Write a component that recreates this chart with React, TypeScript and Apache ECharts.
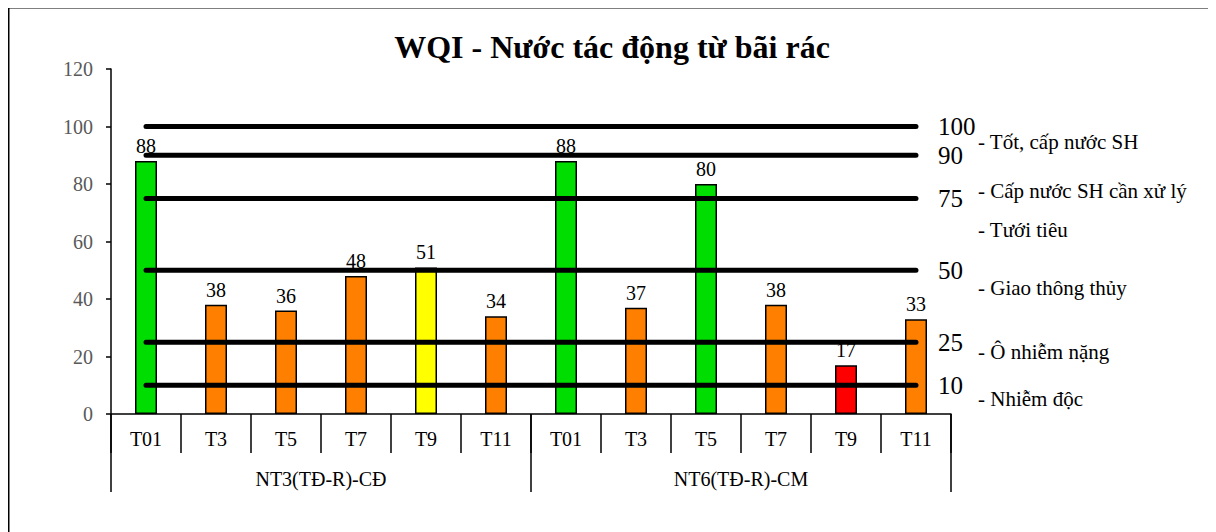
import React, { useEffect, useRef } from "react";
import * as echarts from "echarts";

const months = ["T01", "T3", "T5", "T7", "T9", "T11", "T01", "T3", "T5", "T7", "T9", "T11"];
const stations = ["NT3(TĐ-R)-CĐ", "NT6(TĐ-R)-CM"];
const wqiValues = [88, 38, 36, 48, 51, 34, 88, 37, 80, 38, 17, 33];
const thresholds = [100, 90, 75, 50, 25, 10];
const classNotes = [
  "- Tốt, cấp nước SH",
  "- Cấp nước SH cần xử lý",
  "- Tưới tiêu",
  "- Giao thông thủy",
  "- Ô nhiễm nặng",
  "- Nhiễm độc",
];
const yTicks = [0, 20, 40, 60, 80, 100, 120];

const FONT = "Liberation Serif";

function colorFor(v: number): string {
  if (v >= 76) return "#00DD00";
  if (v >= 51) return "#FFFF00";
  if (v >= 26) return "#FF8000";
  if (v >= 10) return "#FF0000";
  return "#7E0023";
}

export default function App() {
  const ref = useRef<HTMLDivElement>(null);
  useEffect(() => {
    if (!ref.current) return;
    const chart = echarts.init(ref.current, null, { renderer: "svg" });
    const noteY = [136, 185, 224, 282, 346, 393];
    const option: any = {
      animation: false,
      backgroundColor: "#fff",
      textStyle: { fontFamily: FONT },
      title: {
        text: "WQI - Nước tác động từ bãi rác",
        left: "center",
        top: 19,
        textStyle: { fontFamily: FONT, fontSize: 32, fontWeight: "bold", color: "#000" },
      },
      grid: { left: 103, top: 62, width: 840, height: 345, containLabel: false },
      xAxis: [
        {
          type: "category",
          data: months,
          boundaryGap: true,
          axisLine: { show: true, lineStyle: { color: "#000", width: 1.5 } },
          axisTick: { show: true, interval: 0, length: 39, lineStyle: { color: "#000", width: 1.5 } },
          axisLabel: { interval: 0, margin: 15, fontFamily: FONT, fontSize: 20, color: "#000" },
        },
        {
          type: "category",
          data: stations,
          position: "bottom",
          boundaryGap: true,
          axisLine: { show: false },
          axisTick: { show: true, interval: 0, length: 78, lineStyle: { color: "#000", width: 1.5 } },
          axisLabel: { interval: 0, margin: 55, fontFamily: FONT, fontSize: 20, color: "#000" },
        },
      ],
      yAxis: {
        type: "value",
        min: yTicks[0],
        max: yTicks[yTicks.length - 1],
        interval: 20,
        splitLine: { show: false },
        axisLine: { show: true, lineStyle: { color: "#000", width: 1.5 } },
        axisTick: { show: true, length: 5, lineStyle: { color: "#000", width: 1.5 } },
        axisLabel: { margin: 18, fontFamily: FONT, fontSize: 20, color: "#595959" },
      },
      series: [
        {
          type: "bar",
          xAxisIndex: 0,
          barWidth: 22,
          z: 1,
          data: wqiValues.map((v) => ({
            value: v,
            itemStyle: { color: colorFor(v), borderColor: "#000", borderWidth: 1.5 },
          })),
          label: {
            show: true,
            position: "top",
            distance: 5,
            fontFamily: FONT,
            fontSize: 20,
            color: "#000",
          },
        },
        ...thresholds.map((t) => ({
          type: "line",
          xAxisIndex: 0,
          z: 5,
          data: months.map(() => t),
          symbol: "none",
          silent: true,
          lineStyle: { color: "#000", width: 5, cap: "round" },
          endLabel: {
            show: true,
            formatter: () => String(t),
            distance: 22,
            fontFamily: FONT,
            fontSize: 25,
            color: "#000",
          },
        })),
      ],
      graphic: [
        {
          type: "line",
          shape: { x1: 0.75, y1: 0.75, x2: 1300, y2: 0.75 },
          style: { stroke: "#000", lineWidth: 1.5 },
        },
        {
          type: "line",
          shape: { x1: 0.75, y1: 0.75, x2: 0.75, y2: 1300 },
          style: { stroke: "#000", lineWidth: 1.5 },
        },
        ...classNotes.map((n, i) => ({
          type: "text",
          left: 970,
          top: noteY[i] - 12,
          style: { text: n, fontFamily: FONT, fontSize: 21, fill: "#000" },
        })),
      ],
    };
    chart.setOption(option);
    return () => chart.dispose();
  }, []);
  return <div ref={ref} style={{ width: 1208, height: 525, marginTop: -1 }} />;
}
